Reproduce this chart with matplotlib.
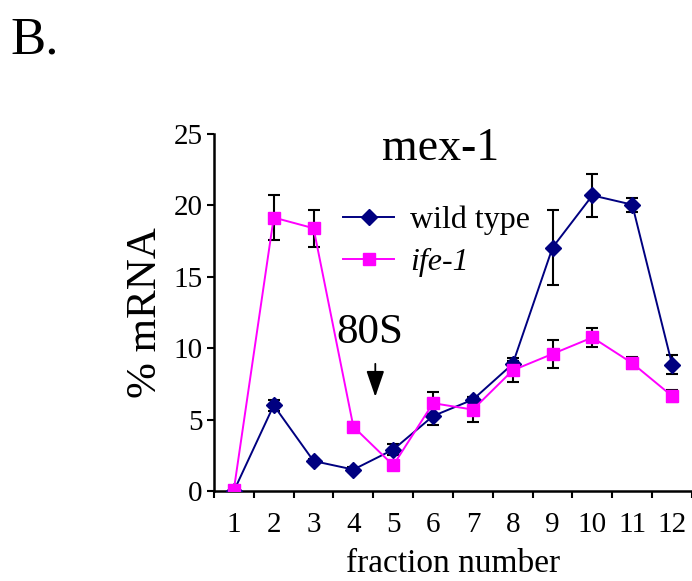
import matplotlib
matplotlib.use("Agg")
import matplotlib.pyplot as plt
import numpy as np

plt.rcParams["font.family"] = ["Liberation Serif", "DejaVu Serif"]

fractions = [1, 2, 3, 4, 5, 6, 7, 8, 9, 10, 11, 12]
wild_type = [0.0, 6.0, 2.1, 1.5, 2.9, 5.25, 6.4, 8.9, 17.05, 20.7, 20.05, 8.85]
wild_type_err = [0.0, 0.4, 0.15, 0.2, 0.4, 0.6, 0.2, 0.2, 2.6, 1.5, 0.5, 0.65]
ife1 = [0.1, 19.15, 18.4, 4.5, 1.8, 6.15, 5.7, 8.45, 9.6, 10.75, 8.95, 6.65]
ife1_err = [0.0, 1.6, 1.3, 0.35, 0.3, 0.75, 0.85, 0.85, 1.0, 0.65, 0.4, 0.45]

fig = plt.figure(figsize=(6.92, 5.81), dpi=100)
ax = fig.add_axes([0.3092, 0.1549, 0.6908, 0.6145])

# error bars behind the markers
ax.errorbar(fractions, wild_type, yerr=wild_type_err, fmt="none", ecolor="black",
            elinewidth=1.5, capsize=4.5, capthick=1.5, zorder=2)
ax.errorbar(fractions, ife1, yerr=ife1_err, fmt="none", ecolor="black",
            elinewidth=1.5, capsize=4.5, capthick=1.5, zorder=2)

ax.plot(fractions, wild_type, color="#000080", marker="D", markersize=8,
        linewidth=1.4, label="wild type", zorder=3)
ax.plot(fractions, ife1, color="#FF00FF", marker="s", markersize=8,
        linewidth=1.4, label="ife-1", zorder=4)

ax.set_xlim(0.5, 12.5)
ax.set_ylim(0, 25)
ax.set_yticks([0, 5, 10, 15, 20, 25])
ax.set_xticks(np.arange(0.5, 13, 1))
ax.set_xticklabels([])
ax.set_xticks(fractions, minor=True)
ax.set_xticklabels([str(f) for f in fractions], minor=True)
ax.tick_params(axis="x", which="major", direction="out", length=5, width=1.5)
ax.tick_params(axis="x", which="minor", length=0, pad=15, labelsize=21)
ax.tick_params(axis="y", direction="out", length=5, width=1.5, pad=3, labelsize=21)

for side in ["top", "right"]:
    ax.spines[side].set_visible(False)
for side in ["left", "bottom"]:
    ax.spines[side].set_linewidth(1.8)

ax.set_ylabel("% mRNA", fontsize=31, labelpad=6)
ax.set_xlabel("fraction number", fontsize=24, labelpad=8)

ax.text(6.2, 24.0, "mex-1", fontsize=33, ha="center", va="center")

# 80S marker
ax.text(4.4, 11.1, "80S", fontsize=31, ha="center", va="center")
ax.annotate("", xy=(4.55, 6.4), xytext=(4.55, 9.1),
            arrowprops=dict(arrowstyle="-|>,head_length=1.6,head_width=0.55",
                            color="black", lw=1.3))

leg = ax.legend(loc="upper left", bbox_to_anchor=(0.27, 0.80), frameon=False,
                fontsize=23, handlelength=1.6, handletextpad=0.5,
                labelspacing=0.4, borderpad=0, borderaxespad=0)
leg.get_texts()[1].set_fontstyle("italic")

fig.text(0.015, 0.93, "B.", fontsize=38, ha="left", va="center")

fig.savefig("out.png", dpi=100)
